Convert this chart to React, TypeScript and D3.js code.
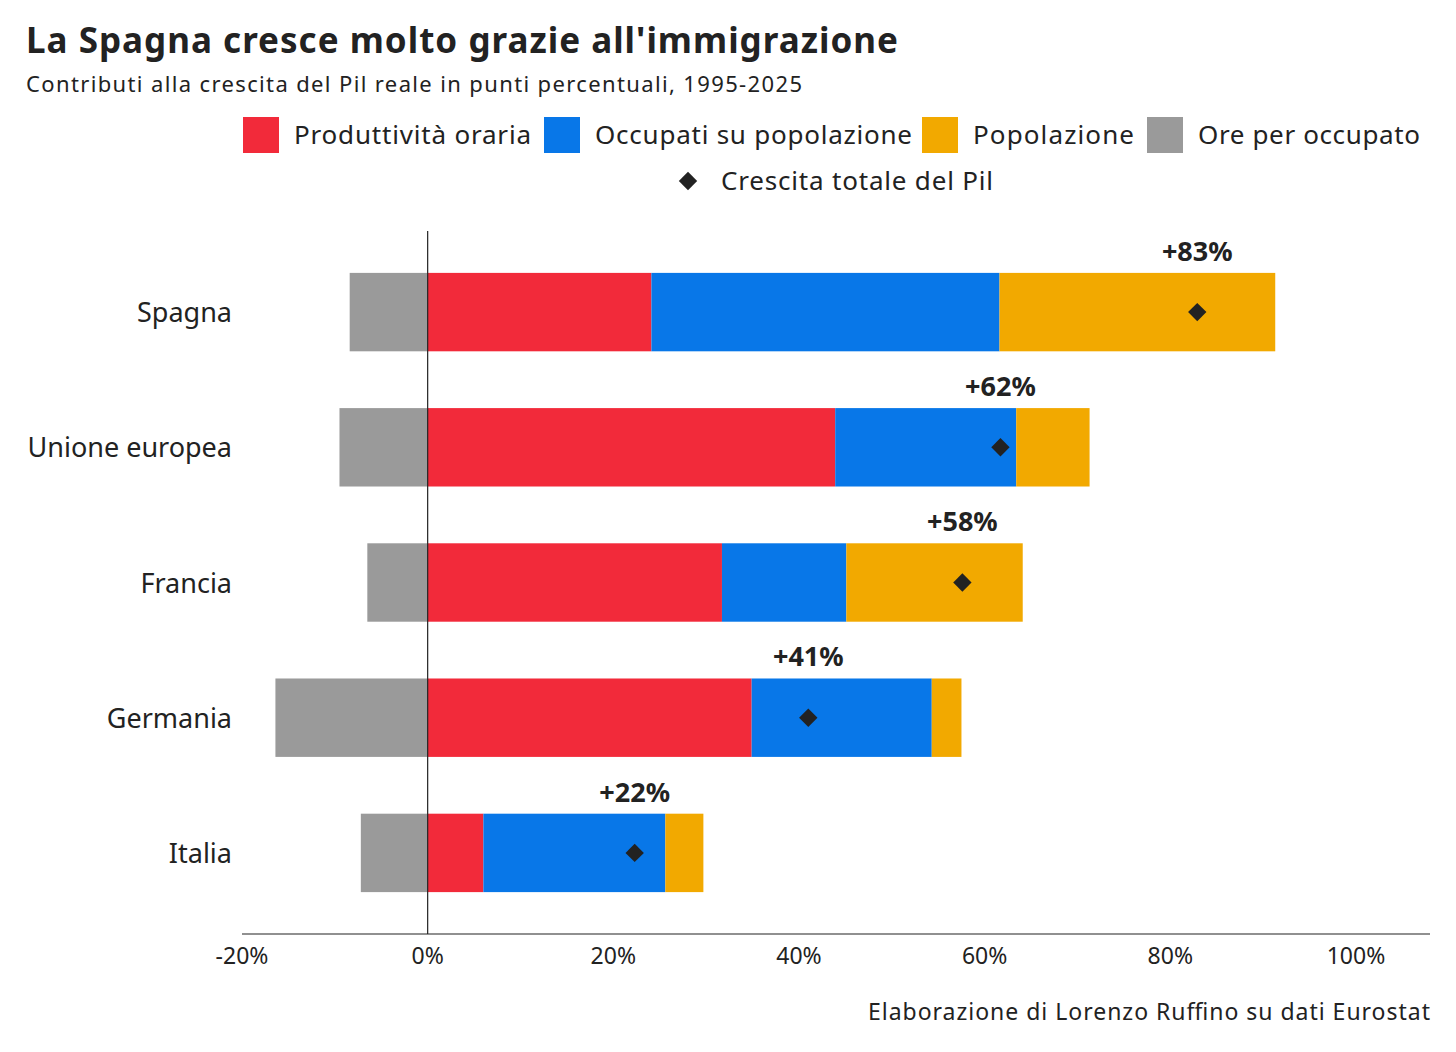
import React from "react";
import * as d3 from "d3";

const countries = ["Spagna", "Unione europea", "Francia", "Germania", "Italia"];
const produttivita = [24.1, 43.9, 31.7, 34.9, 6.0];
const occupati = [37.5, 19.5, 13.4, 19.4, 19.6];
const popolazione = [29.7, 7.9, 19.0, 3.2, 4.1];
const ore = [-8.4, -9.5, -6.5, -16.4, -7.2];
const totale = [82.9, 61.7, 57.6, 41.0, 22.3];
const totaleLabels = ["+83%", "+62%", "+58%", "+41%", "+22%"];
const ticks = [-20, 0, 20, 40, 60, 80, 100];

const colors = { red: "#f22a3a", blue: "#0877e8", yellow: "#f2a900", grey: "#9a9a9a" };
const font = "'Noto Sans', sans-serif";

const Diamond = ({ cx, cy, s }: { cx: number; cy: number; s: number }) => (
  <rect x={-s / 2} y={-s / 2} width={s} height={s} fill="#222" transform={`translate(${cx},${cy}) rotate(45)`} />
);

export default function App() {
  const x = d3.scaleLinear().domain([-20, 100]).range([242, 1356]);
  const y = d3.scaleBand().domain(countries).range([244.5, 920.5]).paddingInner(0.42).paddingOuter(0.21);
  const bh = y.bandwidth();
  return (
    <svg width={1456} height={1052} style={{ display: "block", margin: -8, fontFamily: font }}>
      <rect width={1456} height={1052} fill="#fff" />
      <text x={26} y={53} fontSize={35} fontWeight={700} fill="#222" textLength={872}>La Spagna cresce molto grazie all'immigrazione</text>
      <text x={26} y={92} fontSize={22} fill="#222" textLength={776}>Contributi alla crescita del Pil reale in punti percentuali, 1995-2025</text>
      {[
        [243, colors.red, "Produttività oraria", 237],
        [544, colors.blue, "Occupati su popolazione", 317],
        [922, colors.yellow, "Popolazione", 161],
        [1147, colors.grey, "Ore per occupato", 222],
      ].map(([lx, c, t, w]: any) => (
        <g key={t}>
          <rect x={lx} y={117} width={36} height={36} fill={c} />
          <text x={lx + 51} y={144} fontSize={26} fill="#222" textLength={w}>{t}</text>
        </g>
      ))}
      <Diamond cx={688} cy={181} s={13} />
      <text x={721} y={190} fontSize={26} fill="#222" textLength={272}>Crescita totale del Pil</text>
      {countries.map((c, i) => {
        const y0 = y(c)!;
        const segs = [
          [0, produttivita[i], colors.red],
          [produttivita[i], produttivita[i] + occupati[i], colors.blue],
          [produttivita[i] + occupati[i], produttivita[i] + occupati[i] + popolazione[i], colors.yellow],
          [ore[i], 0, colors.grey],
        ] as [number, number, string][];
        return (
          <g key={c}>
            {segs.map(([a, b, col], j) => (
              <rect key={j} x={x(a)} y={y0} width={x(b) - x(a)} height={bh} fill={col} />
            ))}
            <text x={232} y={y0 + bh / 2 + 10} textAnchor="end" fontSize={27} fill="#222">{c}</text>
            <Diamond cx={x(totale[i])} cy={y0 + bh / 2} s={13} />
            <text x={x(totale[i])} y={y0 - 12} textAnchor="middle" fontSize={27} fontWeight={700} fill="#222">{totaleLabels[i]}</text>
          </g>
        );
      })}
      <line x1={x(0)} x2={x(0)} y1={231} y2={934} stroke="#222" strokeWidth={1.2} />
      <line x1={242} x2={1430} y1={934} y2={934} stroke="#222" strokeWidth={1.2} />
      {ticks.map((t) => (
        <text key={t} x={x(t)} y={964} textAnchor="middle" fontSize={23} fill="#222">{t}%</text>
      ))}
      <text x={1430} y={1020} textAnchor="end" fontSize={23} fill="#222" textLength={562}>Elaborazione di Lorenzo Ruffino su dati Eurostat</text>
    </svg>
  );
}
